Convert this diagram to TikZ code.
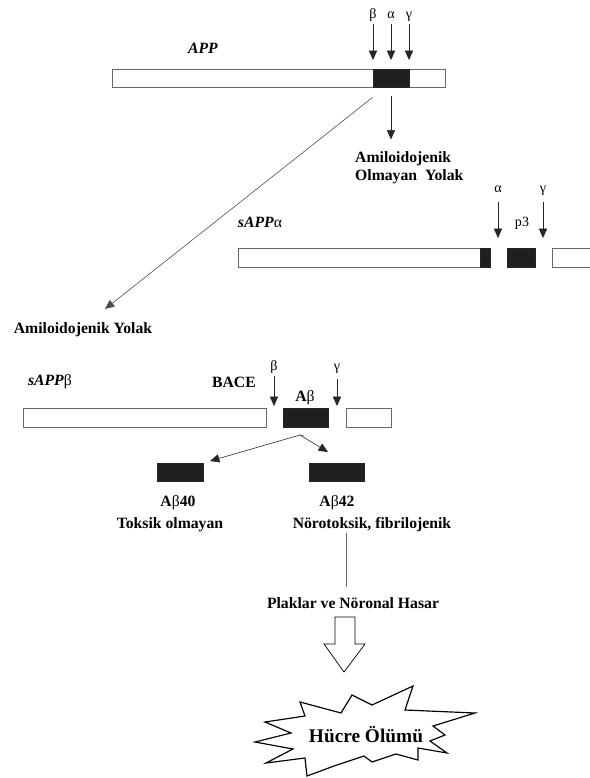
\documentclass[tikz,border=0pt]{standalone}
\usepackage{fontspec}
\setmainfont{Liberation Serif}
\usetikzlibrary{arrows.meta,fit,positioning}

\begin{document}
\begin{tikzpicture}[x=0.03cm, y=-0.03cm,
	bar/.style={draw=black!60, fill=white, line width=0.8pt, inner sep=0pt},
	core/.style={draw=black!85, fill=black!88, line width=0.7pt, inner sep=0pt},
	arr/.style={-{Triangle[length=8pt,width=7pt]}, line width=0.5pt, black!85},
	lab/.style={font=\fontsize{13.4}{15.5}\selectfont\bfseries, inner sep=0pt},
	greek/.style={font=\fontsize{12}{14}\selectfont, inner sep=0pt}]
			%%%%% START %%%%%
			\useasboundingbox (0,0) rectangle (590,778);
			
			% APP
			\node[lab] (app-lbl) at (203,48) {\textit{APP}};
			\node[bar, fit={(112,69) (445,87)}] (app) {};
			\node[core, fit={(373,69) (409,87)}] (app-core) {};
			\node[greek, anchor=base] (cut-b1) at (373,18) {β};
			\node[greek, anchor=base] (cut-a1) at (391,18) {α};
			\node[greek, anchor=base] (cut-g1) at (409,18) {γ};
			\draw[arr] (cut-b1.base) ++(0,6) -- ++(0,36);
			\draw[arr] (cut-a1.base) ++(0,6) -- ++(0,36);
			\draw[arr] (cut-g1.base) ++(0,6) -- ++(0,36);
			
			\draw[arr] (app-core.south) ++(0,9) -- ++(0,43);
			\node[lab, align=left, anchor=north west] (nonamy) at (355,151) {Amiloidojenik\\Olmayan~ Yolak};
			
			\draw[arr, black!70] (app-core.south west) ++(0,10) -- (105,309);
			\node[lab] (amy) at (83,330) {Amiloidojenik Yolak};
			
			% sAPP alpha
			\node[lab] (sappa-lbl) at (260,222) {\textit{sAPP}\textmd{α}};
			\node[bar, fit={(238,248) (490,267)}] (sappa) {};
			\node[core, fit={(480,248) (490,267)}] (sappa-end) {};
			\node[core, fit={(507,248) (535,267)}] (p3) {};
			\node[bar, fit={(552,248) (600,267)}] (ctf-a) {};
			\node[greek, anchor=base] (cut-a2) at (498,192) {α};
			\node[greek, anchor=base] (cut-g2) at (543,192) {γ};
			\draw[arr] (cut-a2.base) ++(0,10) -- (498,238);
			\draw[arr] (cut-g2.base) ++(0,10) -- (543,238);
			\node[greek] (p3-lbl) at (522,223) {p3};
			
			% sAPP beta
			\node[lab] (sappb-lbl) at (50,382) {\textit{sAPP}\textmd{β}};
			\node[lab] (bace) at (234,382) {BACE};
			\node[bar, fit={(23,408) (266,427)}] (sappb) {};
			\node[core, fit={(283,408) (328,427)}] (abeta) {};
			\node[bar, fit={(346,408) (391,427)}] (ctf-b) {};
			\node[greek, anchor=base] (cut-b2) at (274,370) {β};
			\node[greek, anchor=base] (cut-g3) at (337,370) {γ};
			\draw[arr] (cut-b2.base) ++(0,6) -- (274,406);
			\draw[arr] (cut-g3.base) ++(0,9) -- (337,406);
			\node[lab] (abeta-lbl) at (305,398) {A\textmd{β}};
			
			\coordinate (split) at (300,435);
			\draw[arr] (split) -- (210,461);
			\draw[arr] (split) -- (328,452);
			\draw[line width=0.5pt, black!85] (abeta.south) ++(-2,8) -- (split);
			
			% A beta 40 / 42
			\node[core, fit={(157,463) (203,481)}] (ab40) {};
			\node[core, fit={(309,463) (364,481)}] (ab42) {};
			\node[lab] (ab40-lbl) at (178,503) {A\textmd{β}40};
			\node[lab] (ab42-lbl) at (337,503) {A\textmd{β}42};
			\node[lab] (nontox) at (170,525) {Toksik olmayan};
			\node[lab] (tox) at (372,525) {Nörotoksik, fibrilojenik};
			
			\coordinate (tox-end) at (346,533);
			\coordinate (plak-top) at (346,587);
			\draw[line width=0.6pt, black!60] (tox-end) -- (plak-top);
			\node[lab] (plak) at (353,603) {Plaklar ve Nöronal Hasar};
			
			% block arrow
			\draw[line width=0.6pt, fill=white] (335,617) -- (355,617) -- (355,644) -- (365,644) -- (344,672) -- (324,644) -- (335,644) -- cycle;
			
			% starburst
			\draw[line width=1pt, fill=white] (300,702) -- (341,713) -- (352,695) -- (372,705) -- (413,686) -- (405,710) -- (475,713) -- (433,726) -- (445,735) -- (430,741) -- (447,753) -- (418,748) -- (418,760) -- (396,754) -- (372,762) -- (364,756) -- (334,766) -- (307,776) -- (305,758) -- (266,763) -- (293,749) -- (255,742) -- (291,733) -- (265,722) -- (305,716) -- cycle;
			\node[font=\fontsize{16.5}{19}\selectfont\bfseries, inner sep=0pt] (death) at (366,735) {Hücre Ölümü};
			
			%%%%% END %%%%%
\end{tikzpicture}
\end{document}
